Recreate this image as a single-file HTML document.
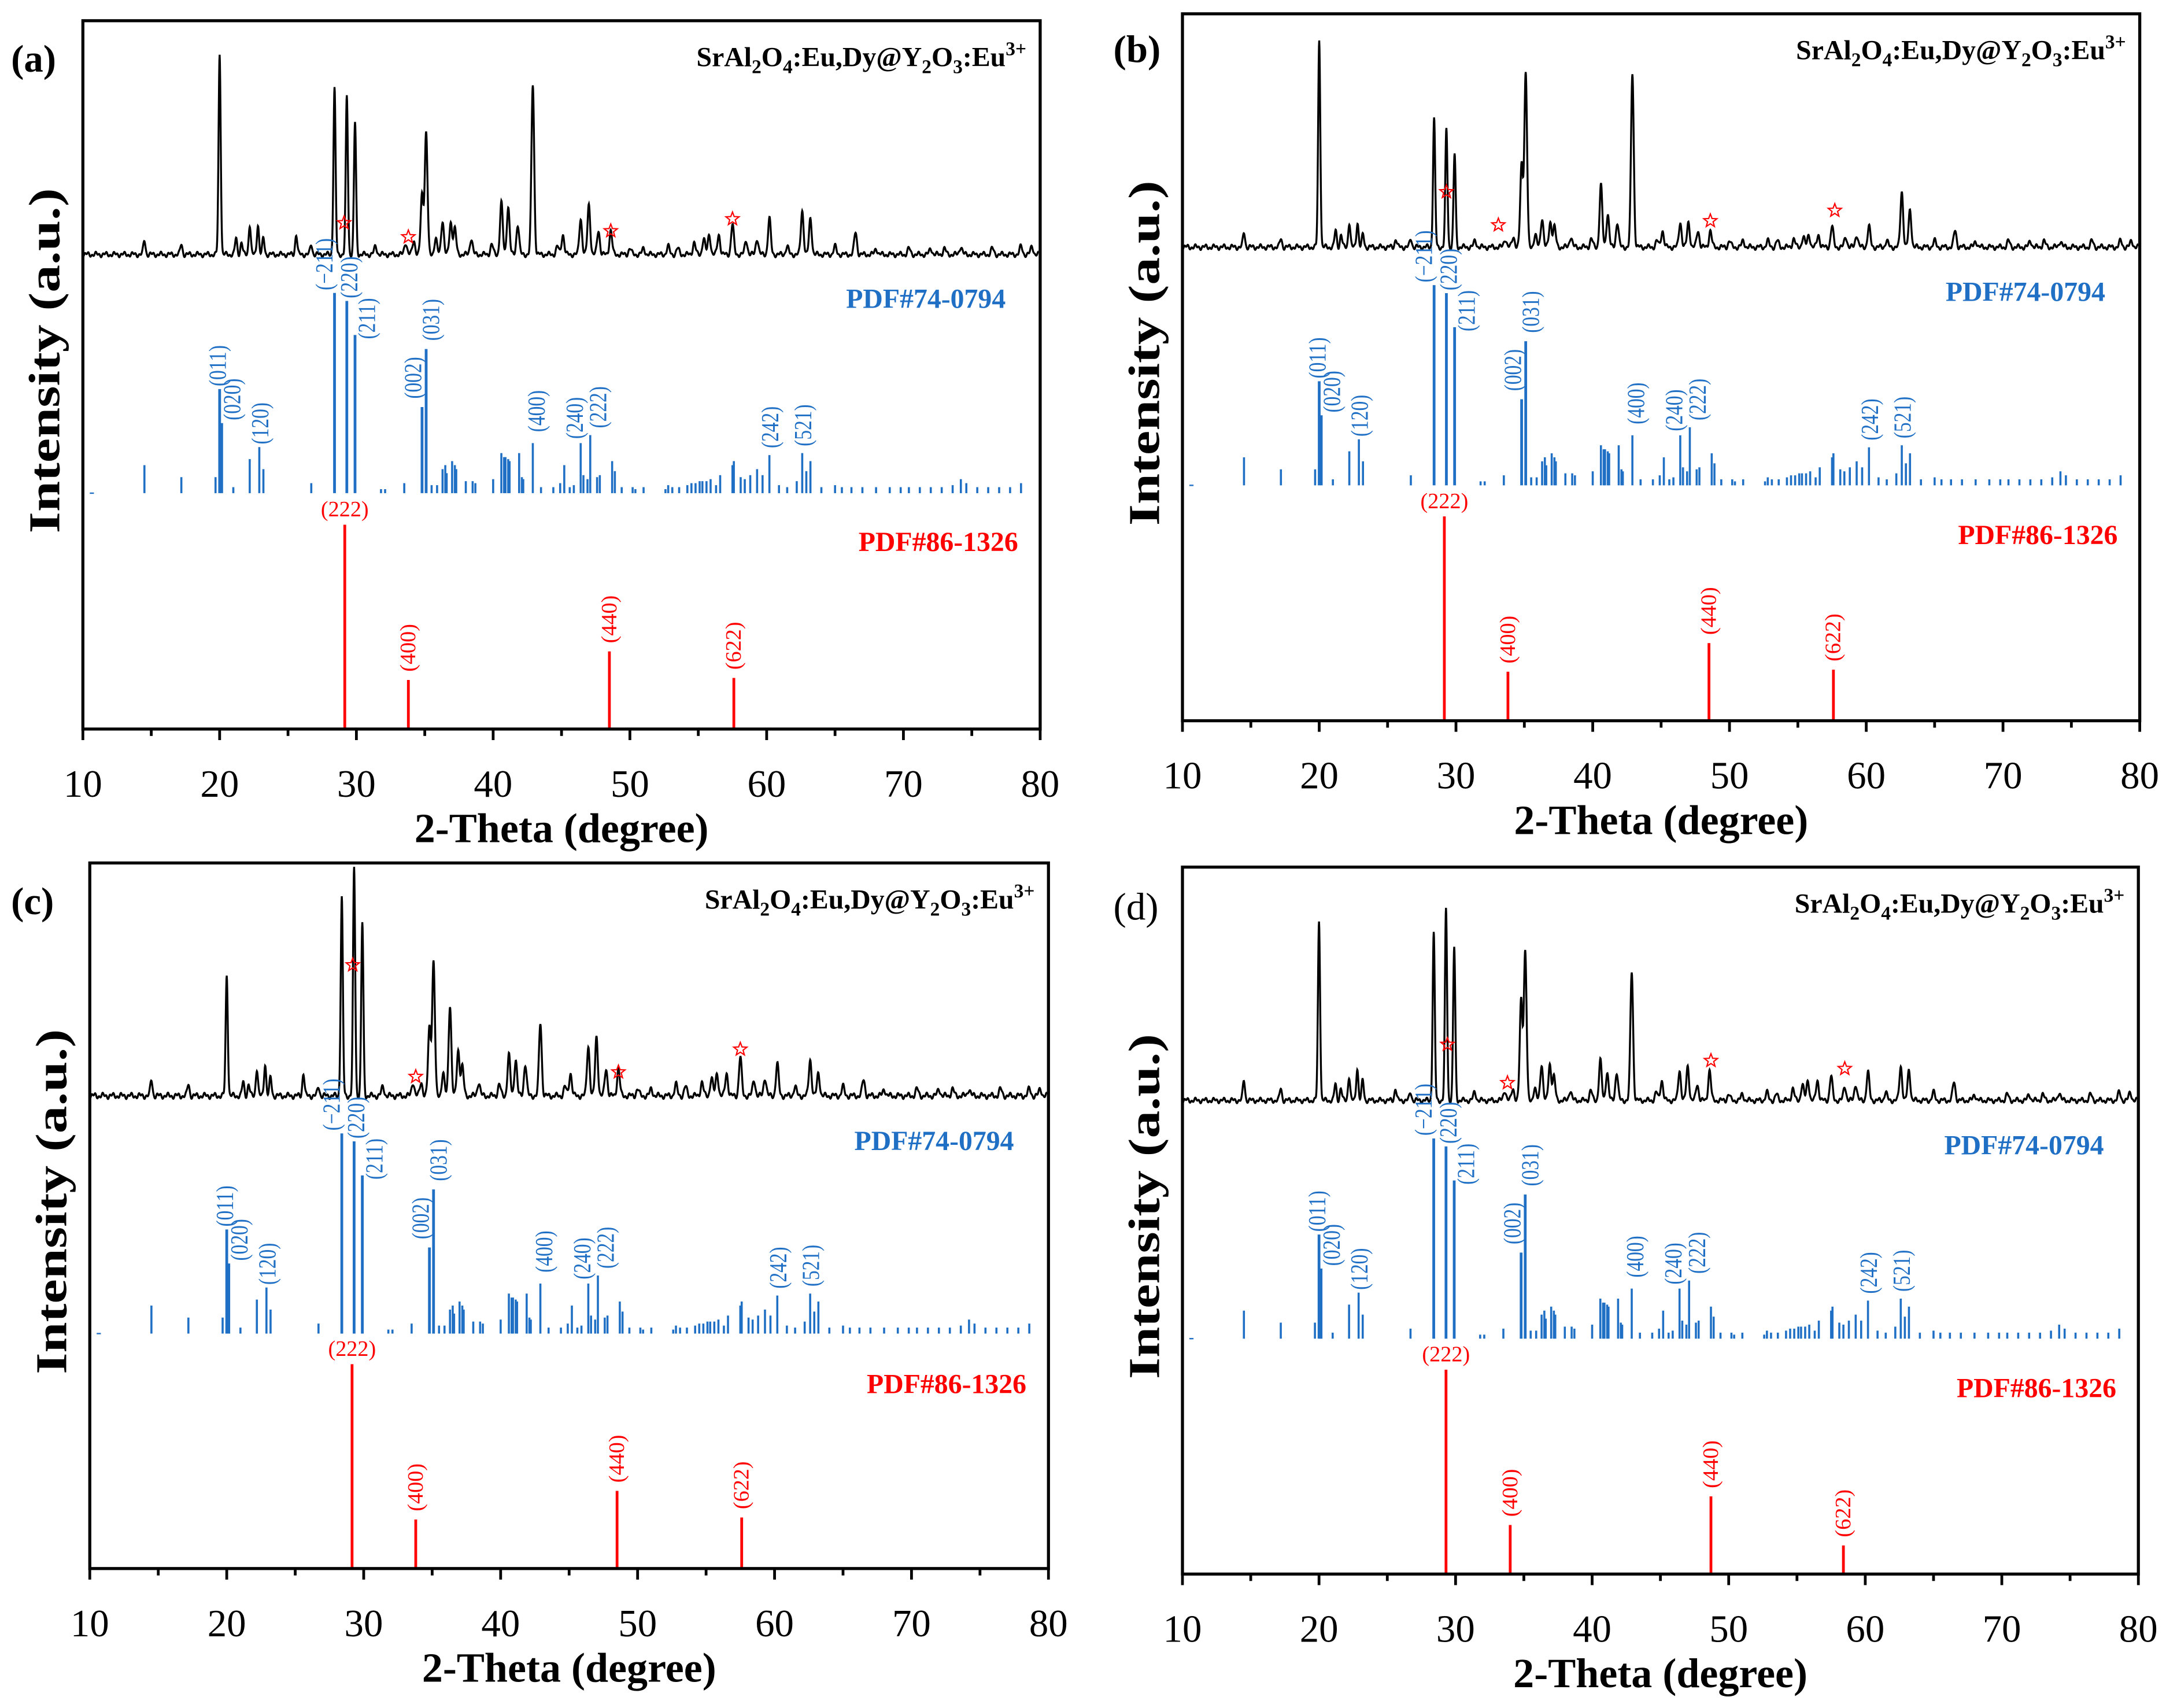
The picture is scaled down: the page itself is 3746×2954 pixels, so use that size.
<!DOCTYPE html>
<html><head><meta charset="utf-8"><style>
html,body{margin:0;padding:0;background:#fff;}
svg{display:block;font-family:"Liberation Serif",serif;}
</style></head><body>
<svg id="fig" width="3746" height="2954" viewBox="0 0 1568 1237" preserveAspectRatio="none" xmlns="http://www.w3.org/2000/svg" font-family="Liberation Serif, serif"></svg>
<script>
// ---- data ----
const xTicks = [10,20,30,40,50,60,70,80];
const panelIds = ['a','b','c','d'];
const peakPos = [14.5,17.2,20.0,21.2,21.6,22.2,22.8,23.2,25.6,26.7,28.4,29.3,29.9,31.4,33.6,34.2,34.8,35.1,35.8,36.3,36.9,37.2,38.4,39.9,40.6,41.1,41.8,42.9,44.7,45.1,46.4,47.0,47.7,48.6,50.0,51.0,52.8,53.5,54.7,55.4,55.8,56.5,57.5,58.5,59.3,60.2,61.5,62.6,63.2,65.0,66.5,68.0,70.4,72.0,73.0,74.2,76.5,78.6,79.4];
const peaksA = [7,5,100,8,6,15,15,8,10,5,83,79,66,4,6,7,30,61,8,17,16,13,8,5,26,24,15,85,4,10,18,25,12,12,3,3,4,3,6,8,10,10,15,7,8,18,4,22,18,4,11,3,3,3,3,4,3,4,4];
const peaksB = [7,4,100,8,6,12,12,6,4,4,62,57,45,3,4,5,40,84,6,14,12,10,5,4,30,16,12,84,3,8,12,12,8,8,3,3,3,3,4,5,6,6,10,5,6,10,3,27,18,3,8,3,3,3,3,3,3,3,3];
const peaksC = [7,5,53,6,5,12,14,8,10,4,87,100,76,4,6,6,30,59,10,40,20,13,6,5,18,16,14,32,4,10,22,26,12,12,3,3,5,4,6,8,10,10,17,7,8,14,4,16,10,4,7,3,3,3,3,3,3,3,3];
const peaksD = [10,6,89,8,6,12,16,10,6,4,83,95,76,4,5,6,50,74,6,18,18,12,5,5,20,14,14,64,4,10,15,17,8,15,3,3,4,3,6,8,10,10,12,7,8,14,4,17,15,4,9,3,3,3,3,4,3,4,4];
const starsA = [[29.1,13],[33.8,6],[48.6,9],[57.5,15]];
const starsB = [[29.3,24],[33.1,8],[48.6,10],[57.7,15]];
const starsC = [[29.2,55],[33.8,6],[48.6,8],[57.5,18]];
const starsD = [[29.4,25],[33.8,6],[48.7,17],[58.5,13]];
const blueX = [14.5,17.2,19.7,20.0,20.15,21.0,22.2,22.9,23.2,26.7,28.4,29.3,29.9,31.8,32.1,33.5,34.8,35.1,35.5,35.9,36.3,36.5,36.6,37.0,37.2,37.3,38.0,38.5,38.7,40.0,40.6,40.8,40.9,41.1,41.2,41.9,42.1,42.2,42.9,43.5,44.4,44.9,45.2,45.6,45.9,46.4,46.6,46.9,47.1,47.6,47.8,48.7,48.9,49.4,50.2,50.4,51.0,52.6,52.8,53.1,53.6,54.2,54.5,54.8,55.1,55.3,55.6,55.9,56.3,56.6,57.5,57.6,58.1,58.4,58.8,59.3,59.7,60.2,60.9,61.5,62.2,62.6,62.9,63.2,64.0,65.0,65.5,66.2,67.0,68.0,69.0,69.8,70.4,71.2,72.0,72.8,73.6,74.2,74.6,75.4,76.2,77.0,77.8,78.6];
const blueY = [14,8,8,52,35,3,17,23,12,5,100,96,79,2,2,5,43,72,4,4,12,14,10,16,14,12,6,6,5,7,20,18,18,17,16,20,8,7,25,3,3,5,14,3,4,25,9,7,29,8,9,16,11,3,3,2,3,2,4,3,3,4,5,5,6,6,6,7,4,9,14,16,8,7,9,12,9,19,4,3,6,20,11,16,3,4,3,3,3,3,3,3,3,3,3,3,4,7,5,3,3,3,3,5];
const blueLblIdx = [[3,'(011)'],[4,'(020)'],[7,'(120)'],[10,'(−211)'],[11,'(220)'],[12,'(211)'],[16,'(002)'],[17,'(031)'],[38,'(400)'],[45,'(240)'],[48,'(222)'],[77,'(242)'],[81,'(521)']];
const redX = [29.15,33.8,48.5,57.6];
const redXD = [29.3,34.0,48.7,58.4];
const redY = [100,24,38,25];
const redYD = [100,24,38,14];
const redLbl = ['(222)','(400)','(440)','(622)'];

// ---- layout ----
const panels = [
 {id:'a',L:60,T:15,R:753,B:528,pk:peaksA,st:starsA,bk:145,rx:redX,ry:redY,letter:[8,52],lbx:32},
 {id:'b',L:856,T:10,R:1549,B:522,pk:peaksB,st:starsB,bk:150,rx:redX,ry:redY,letter:[806,45],lbx:828},
 {id:'c',L:65,T:625,R:759,B:1136,pk:peaksC,st:starsC,bk:165,rx:redX,ry:redY,letter:[8,662],lbx:37},
 {id:'d',L:856,T:628,R:1548,B:1140,pk:peaksD,st:starsD,bk:146,rx:redXD,ry:redYD,letter:[806,666],lbx:828}
];
// label offsets (layout only): [center dx, drop below stick top]
const lblOff = {'(011)':[-1,0],'(020)':[8,0],'(120)':[1,0],'(−211)':[-7,0],'(220)':[2,0],'(211)':[9,5],'(002)':[-6,-4],'(031)':[4,-4],'(400)':[3,-6],'(240)':[-4,-1],'(222)':[6,-3],'(242)':[1,-3],'(521)':[1,-3]};
const NS='http://www.w3.org/2000/svg';
const svg=document.getElementById('fig');
function mk(tag,attrs,parent,text){const e=document.createElementNS(NS,tag);for(const k in attrs)e.setAttribute(k,attrs[k]);if(text!==undefined)e.textContent=text;(parent||svg).appendChild(e);return e;}
const BLUE='#1f6fc5', RED='#ff0000';

panels.forEach(p=>{
  const g=mk('g',{});
  
  
  const W=p.R-p.L,H=p.B-p.T;
  const xs=v=>p.L+(v-10)/70*W;
  const blackBase=p.T+0.33*H, blueBase=p.T+0.667*H, redBase=p.B;
  let d='';
  for(let x=10;x<=79.9;x+=0.02){
    let y=0;
    for(let i=0;i<peakPos.length;i++){const w=peakPos[i]<30?0.11:0.14;const t=(x-peakPos[i])/w;y+=p.pk[i]*Math.exp(-t*t);}
    y+=0.8*Math.sin(x*9.3)+0.6*Math.sin(x*23.7);
    d+=(d?'L':'M')+xs(x).toFixed(2)+' '+(blackBase-y/100*p.bk).toFixed(2);
  }
  const pat=mk('path',{d:d,fill:'none',stroke:'#000','stroke-width':1.4},g);
  
  
  p.st.forEach(s=>{
    const cx=xs(s[0]),cy=blackBase-s[1]/100*p.bk-4,r=5,r2=2.1;let pts=[];
    for(let k=0;k<10;k++){const a=-Math.PI/2+k*Math.PI/5;const rr=k%2?r2:r;pts.push((cx+rr*Math.cos(a)).toFixed(2)+','+(cy+rr*Math.sin(a)).toFixed(2));}
    const st=mk('polygon',{points:pts.join(' '),fill:'none',stroke:RED,'stroke-width':0.9},g);
    
    
  });
  const bs=145;
  mk('line',{x1:p.L+5,x2:p.L+8,y1:blueBase,y2:blueBase,stroke:BLUE,'stroke-width':1},g);
  blueX.forEach((v,i)=>{
    const ln=mk('line',{x1:xs(v),x2:xs(v),y1:blueBase,y2:blueBase-blueY[i]/100*bs,stroke:BLUE,'stroke-width':blueY[i]>30?2:1.5},g);
    
    
  });
  blueLblIdx.forEach(([i,t])=>{
    const x=xs(blueX[i]),top=blueBase-blueY[i]/100*bs-2;
    const o=lblOff[t];
    const tx=mk('text',{x:0,y:0,transform:`translate(${(x+o[0]+5.5).toFixed(1)},${(top+o[1]).toFixed(1)}) rotate(-90) scale(1,1.25)`,fill:BLUE,'font-size':14},g,t);
    
    
  });
  const rs=148;
  p.rx.forEach((v,i)=>{
    const x=xs(v),top=redBase-p.ry[i]/100*rs;
    const ln=mk('line',{x1:x,x2:x,y1:redBase,y2:top,stroke:RED,'stroke-width':2},g);
    
    
    let tx;
    if(i===0) tx=mk('text',{x:x,y:top-6,'text-anchor':'middle',fill:RED,'font-size':16},g,redLbl[i]);
    else tx=mk('text',{x:0,y:0,transform:`translate(${(x+5).toFixed(1)},${(top-6).toFixed(1)}) rotate(-90)`,fill:RED,'font-size':16},g,redLbl[i]);
    
    
  });
  const fr=mk('rect',{x:p.L,y:p.T,width:W,height:H,fill:'none',stroke:'#000','stroke-width':2.2},g);
  
  
  for(let v=10;v<=80;v+=5){
    const maj=v%10===0;
    mk('line',{x1:xs(v),x2:xs(v),y1:p.B,y2:p.B+(maj?8:5),stroke:'#000','stroke-width':2},g);
  }
  xTicks.forEach(v=>{
    const t=mk('text',{x:xs(v),y:p.B+49,'text-anchor':'middle','font-size':28},g,String(v));
    
    
  });
  const xt=mk('text',{x:(p.L+p.R)/2,y:p.B+82,'text-anchor':'middle','font-size':30,'font-weight':'bold',textLength:213,lengthAdjust:'spacingAndGlyphs'},g,'2-Theta (degree)');
  
  
  const yt=mk('text',{x:0,y:0,transform:`translate(${p.lbx+11},${p.T+H*0.48}) rotate(-90)`,'text-anchor':'middle','font-size':32,'font-weight':'bold',textLength:250,lengthAdjust:'spacingAndGlyphs'},g,'Intensity (a.u.)');
  
  
  const lt=mk('text',{x:p.letter[0],y:p.letter[1],'font-size':28,'font-weight':p.id==='d'?'normal':'bold'},g,'('+p.id+')');
  
  
  const ti=mk('text',{x:p.R-10,y:p.T+33,'text-anchor':'end','font-size':20,'font-weight':'bold'},g);
  
  
  ti.innerHTML='SrAl<tspan dy="5" font-size="14">2</tspan><tspan dy="-5">O</tspan><tspan dy="5" font-size="14">4</tspan><tspan dy="-5">:Eu,Dy@Y</tspan><tspan dy="5" font-size="14">2</tspan><tspan dy="-5">O</tspan><tspan dy="5" font-size="14">3</tspan><tspan dy="-5">:Eu</tspan><tspan dy="-8" font-size="14">3+</tspan>';
  const b1=mk('text',{x:p.R-25,y:p.T+208,'text-anchor':'end','font-size':20,'font-weight':'bold',fill:BLUE},g,'PDF#74-0794');
  
  
  const r1=mk('text',{x:p.R-16,y:p.T+384,'text-anchor':'end','font-size':20,'font-weight':'bold',fill:RED},g,'PDF#86-1326');
  
  
});
</script>
</body></html>
